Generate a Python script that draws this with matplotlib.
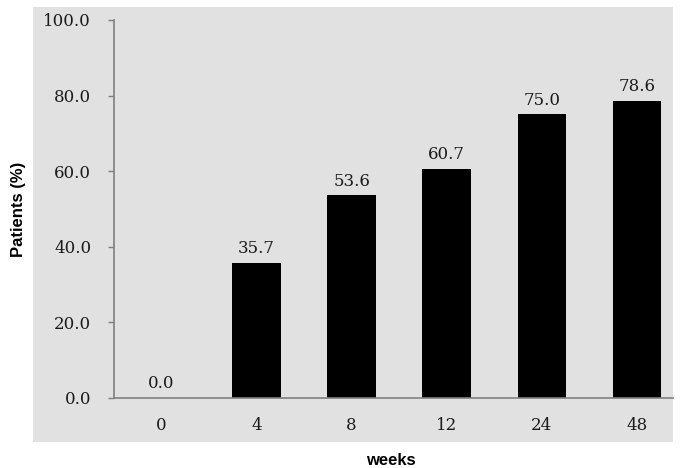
import matplotlib.pyplot as plt
from matplotlib.patches import Rectangle

weeks = ['0', '4', '8', '12', '24', '48']
patients = [0.0, 35.7, 53.6, 60.7, 75.0, 78.6]
yticks = [0, 20, 40, 60, 80, 100]

gray = '#e1e1e1'

fig = plt.figure(figsize=(6.85, 4.68), dpi=100)
fig.patches.append(Rectangle((0.048, 0.056), 0.934, 0.929, transform=fig.transFigure,
                             facecolor=gray, edgecolor='none', zorder=-10))

ax = fig.add_axes([0.1664, 0.1496, 0.816, 0.8077])
ax.set_facecolor(gray)

x = range(len(weeks))
bars = ax.bar(x, patients, width=0.51, color='black')
ax.bar_label(bars, labels=[f'{v:.1f}' for v in patients], padding=4,
             fontsize=12, family='DejaVu Serif', color='#1a1a1a')

ax.set_xlim(-0.5, 5.38)
ax.set_ylim(0, 100)
ax.set_xticks(list(x))
ax.set_xticklabels(weeks, family='DejaVu Serif', fontsize=12, color='#1a1a1a')
ax.set_yticks(yticks)
ax.set_yticklabels([f'{v:.1f}' for v in yticks], family='DejaVu Serif',
                   fontsize=12, color='#1a1a1a')

ax.tick_params(axis='x', length=0, pad=14)
ax.tick_params(axis='y', length=4.5, width=1, color='#808080', pad=12)

for s in ['top', 'right']:
    ax.spines[s].set_visible(False)
for s in ['left', 'bottom']:
    ax.spines[s].set_color('#808080')
    ax.spines[s].set_linewidth(1.2)

ax.set_xlabel('weeks', fontsize=12, fontweight='bold', family='Liberation Sans')
ax.set_ylabel('Patients (%)', fontsize=12, fontweight='bold', family='Liberation Sans')
ax.xaxis.set_label_coords(0.495, -0.145)
ax.yaxis.set_label_coords(-0.158, 0.5)

fig.savefig('out.png', dpi=100)
